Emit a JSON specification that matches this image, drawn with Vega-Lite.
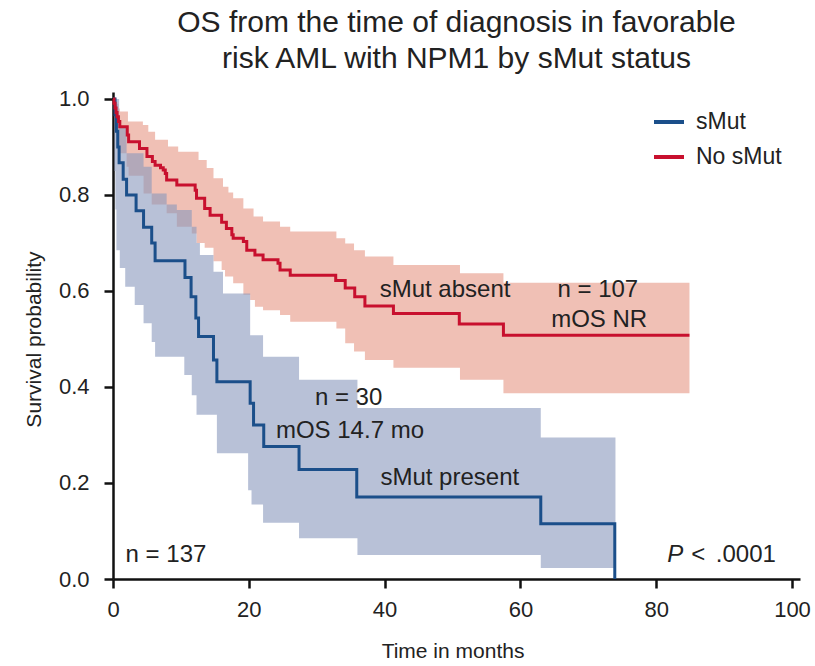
{
  "$schema": "https://vega.github.io/schema/vega-lite/v6.json",
  "autosize": {"type": "none"},
  "padding": {"left": 113, "top": 92, "right": 15, "bottom": 87},
  "width": 687,
  "height": 487,
  "background": "white",
  "title": {
    "text": ["OS from the time of diagnosis in favorable", "risk AML with NPM1 by sMut status"],
    "font": "Liberation Sans",
    "fontSize": 30,
    "fontWeight": "normal",
    "color": "#222222",
    "lineHeight": 36,
    "offset": 14,
    "anchor": "middle"
  },
  "config": {
    "view": {"stroke": null},
    "axis": {
      "domainColor": "#111111",
      "domainWidth": 2.5,
      "tickColor": "#111111",
      "tickWidth": 2.5,
      "tickSize": 9,
      "grid": false,
      "labelFlush": false,
      "labelFont": "Liberation Sans",
      "labelFontSize": 22,
      "labelColor": "#222222",
      "titleFont": "Liberation Sans",
      "titleFontSize": 21,
      "titleFontWeight": "normal",
      "titleColor": "#222222"
    },
    "legend": {
      "labelFont": "Liberation Sans",
      "labelFontSize": 23,
      "labelColor": "#222222"
    }
  },
  "datasets": {
    "curves": [
      {"g": "sMut", "t": 0, "s": 1.0},
      {"g": "sMut", "t": 0.3, "s": 0.967},
      {"g": "sMut", "t": 0.5, "s": 0.933},
      {"g": "sMut", "t": 0.7, "s": 0.9},
      {"g": "sMut", "t": 0.9, "s": 0.867},
      {"g": "sMut", "t": 1.5, "s": 0.833},
      {"g": "sMut", "t": 2.0, "s": 0.8},
      {"g": "sMut", "t": 3.4, "s": 0.767},
      {"g": "sMut", "t": 4.5, "s": 0.733},
      {"g": "sMut", "t": 5.7, "s": 0.7},
      {"g": "sMut", "t": 6.2, "s": 0.663},
      {"g": "sMut", "t": 10.6, "s": 0.628},
      {"g": "sMut", "t": 11.5, "s": 0.588},
      {"g": "sMut", "t": 12.2, "s": 0.544},
      {"g": "sMut", "t": 12.6, "s": 0.505},
      {"g": "sMut", "t": 14.8, "s": 0.456},
      {"g": "sMut", "t": 15.3, "s": 0.411},
      {"g": "sMut", "t": 20.2, "s": 0.366},
      {"g": "sMut", "t": 20.7, "s": 0.321},
      {"g": "sMut", "t": 22.2, "s": 0.276},
      {"g": "sMut", "t": 27.4, "s": 0.228},
      {"g": "sMut", "t": 35.9, "s": 0.171},
      {"g": "sMut", "t": 63.0, "s": 0.115},
      {"g": "sMut", "t": 73.9, "s": 0.0},
      {"g": "No sMut", "t": 0, "s": 1.0},
      {"g": "No sMut", "t": 0.15, "s": 0.991},
      {"g": "No sMut", "t": 0.3, "s": 0.981},
      {"g": "No sMut", "t": 0.45, "s": 0.972},
      {"g": "No sMut", "t": 0.6, "s": 0.963},
      {"g": "No sMut", "t": 0.8, "s": 0.953},
      {"g": "No sMut", "t": 1.0, "s": 0.942},
      {"g": "No sMut", "t": 2.1, "s": 0.925},
      {"g": "No sMut", "t": 2.3, "s": 0.911},
      {"g": "No sMut", "t": 3.9, "s": 0.897},
      {"g": "No sMut", "t": 5.0, "s": 0.88},
      {"g": "No sMut", "t": 5.8, "s": 0.87},
      {"g": "No sMut", "t": 6.2, "s": 0.862},
      {"g": "No sMut", "t": 7.0, "s": 0.857},
      {"g": "No sMut", "t": 7.4, "s": 0.852},
      {"g": "No sMut", "t": 7.7, "s": 0.845},
      {"g": "No sMut", "t": 7.9, "s": 0.831},
      {"g": "No sMut", "t": 9.4, "s": 0.821},
      {"g": "No sMut", "t": 12.1, "s": 0.81},
      {"g": "No sMut", "t": 12.3, "s": 0.793},
      {"g": "No sMut", "t": 13.5, "s": 0.772},
      {"g": "No sMut", "t": 14.3, "s": 0.758},
      {"g": "No sMut", "t": 16.0, "s": 0.743},
      {"g": "No sMut", "t": 16.7, "s": 0.73},
      {"g": "No sMut", "t": 17.5, "s": 0.717},
      {"g": "No sMut", "t": 17.7, "s": 0.71},
      {"g": "No sMut", "t": 19.2, "s": 0.703},
      {"g": "No sMut", "t": 19.7, "s": 0.685},
      {"g": "No sMut", "t": 20.9, "s": 0.675},
      {"g": "No sMut", "t": 22.1, "s": 0.665},
      {"g": "No sMut", "t": 24.3, "s": 0.658},
      {"g": "No sMut", "t": 24.6, "s": 0.644},
      {"g": "No sMut", "t": 26.1, "s": 0.633},
      {"g": "No sMut", "t": 32.8, "s": 0.622},
      {"g": "No sMut", "t": 34.2, "s": 0.606},
      {"g": "No sMut", "t": 35.6, "s": 0.588},
      {"g": "No sMut", "t": 37.1, "s": 0.569},
      {"g": "No sMut", "t": 41.3, "s": 0.553},
      {"g": "No sMut", "t": 51.0, "s": 0.531},
      {"g": "No sMut", "t": 57.5, "s": 0.508},
      {"g": "No sMut", "t": 84.9, "s": 0.508}
    ],
    "blueBand": [
      {"t": 0, "lo": 1.0, "hi": 1.0},
      {"t": 0.2, "lo": 0.85, "hi": 1.0},
      {"t": 0.35, "lo": 0.77, "hi": 1.0},
      {"t": 0.5, "lo": 0.685, "hi": 1.0},
      {"t": 0.9, "lo": 0.685, "hi": 0.94},
      {"t": 1.0, "lo": 0.648, "hi": 0.94},
      {"t": 1.8, "lo": 0.609, "hi": 0.94},
      {"t": 2.0, "lo": 0.609, "hi": 0.887},
      {"t": 3.2, "lo": 0.571, "hi": 0.887},
      {"t": 4.5, "lo": 0.533, "hi": 0.859},
      {"t": 5.7, "lo": 0.494, "hi": 0.803},
      {"t": 6.2, "lo": 0.463, "hi": 0.803},
      {"t": 7.9, "lo": 0.463, "hi": 0.78},
      {"t": 9.4, "lo": 0.463, "hi": 0.769},
      {"t": 10.5, "lo": 0.425, "hi": 0.769},
      {"t": 11.6, "lo": 0.383, "hi": 0.734},
      {"t": 12.3, "lo": 0.342, "hi": 0.7},
      {"t": 12.8, "lo": 0.342, "hi": 0.675},
      {"t": 14.8, "lo": 0.342, "hi": 0.64},
      {"t": 15.3, "lo": 0.262, "hi": 0.64},
      {"t": 16.2, "lo": 0.262, "hi": 0.595},
      {"t": 19.9, "lo": 0.185, "hi": 0.595},
      {"t": 20.2, "lo": 0.185, "hi": 0.508},
      {"t": 20.4, "lo": 0.155, "hi": 0.508},
      {"t": 22.1, "lo": 0.117, "hi": 0.463},
      {"t": 27.4, "lo": 0.085, "hi": 0.415},
      {"t": 36.0, "lo": 0.05, "hi": 0.356},
      {"t": 63.0, "lo": 0.023, "hi": 0.295},
      {"t": 74.0, "lo": 0.023, "hi": 0.295}
    ],
    "redBand": [
      {"t": 0, "lo": 1.0, "hi": 1.0},
      {"t": 0.3, "lo": 0.95, "hi": 1.0},
      {"t": 0.5, "lo": 0.95, "hi": 0.99},
      {"t": 0.6, "lo": 0.9, "hi": 0.99},
      {"t": 0.8, "lo": 0.887, "hi": 0.98},
      {"t": 1.0, "lo": 0.887, "hi": 0.974},
      {"t": 2.0, "lo": 0.859, "hi": 0.974},
      {"t": 2.2, "lo": 0.859, "hi": 0.953},
      {"t": 2.3, "lo": 0.84, "hi": 0.953},
      {"t": 4.4, "lo": 0.84, "hi": 0.946},
      {"t": 4.5, "lo": 0.803, "hi": 0.946},
      {"t": 5.2, "lo": 0.803, "hi": 0.932},
      {"t": 5.7, "lo": 0.78, "hi": 0.932},
      {"t": 6.2, "lo": 0.78, "hi": 0.915},
      {"t": 7.9, "lo": 0.762, "hi": 0.915},
      {"t": 8.1, "lo": 0.762, "hi": 0.901},
      {"t": 9.4, "lo": 0.734, "hi": 0.901},
      {"t": 9.6, "lo": 0.734, "hi": 0.89},
      {"t": 11.6, "lo": 0.72, "hi": 0.89},
      {"t": 12.3, "lo": 0.7, "hi": 0.89},
      {"t": 12.6, "lo": 0.7, "hi": 0.873},
      {"t": 13.5, "lo": 0.69, "hi": 0.873},
      {"t": 13.8, "lo": 0.69, "hi": 0.856},
      {"t": 14.8, "lo": 0.662, "hi": 0.835},
      {"t": 16.0, "lo": 0.644, "hi": 0.835},
      {"t": 16.2, "lo": 0.644, "hi": 0.817},
      {"t": 16.5, "lo": 0.63, "hi": 0.817},
      {"t": 17.0, "lo": 0.63, "hi": 0.805},
      {"t": 17.7, "lo": 0.616, "hi": 0.793},
      {"t": 19.2, "lo": 0.592, "hi": 0.772},
      {"t": 20.2, "lo": 0.581, "hi": 0.772},
      {"t": 20.7, "lo": 0.581, "hi": 0.755},
      {"t": 20.9, "lo": 0.567, "hi": 0.755},
      {"t": 22.1, "lo": 0.56, "hi": 0.745},
      {"t": 24.6, "lo": 0.55, "hi": 0.734},
      {"t": 26.1, "lo": 0.536, "hi": 0.724},
      {"t": 32.9, "lo": 0.522, "hi": 0.71},
      {"t": 34.2, "lo": 0.491, "hi": 0.699},
      {"t": 35.5, "lo": 0.474, "hi": 0.685},
      {"t": 37.1, "lo": 0.456, "hi": 0.672},
      {"t": 41.3, "lo": 0.44, "hi": 0.654},
      {"t": 51.1, "lo": 0.415, "hi": 0.637},
      {"t": 57.5, "lo": 0.387, "hi": 0.617},
      {"t": 84.9, "lo": 0.387, "hi": 0.617}
    ],
    "notes": [
      {"x": 48.9, "y": 0.602, "label": "sMut absent"},
      {"x": 71.4, "y": 0.602, "label": "n = 107"},
      {"x": 71.6, "y": 0.54, "label": "mOS NR"},
      {"x": 34.7, "y": 0.377, "label": "n = 30"},
      {"x": 34.9, "y": 0.308, "label": "mOS 14.7 mo"},
      {"x": 49.6, "y": 0.211, "label": "sMut present"},
      {"x": 7.8, "y": 0.05, "label": "n = 137"},
      {"x": 86.2, "y": 0.05, "label": "<"},
      {"x": 93.2, "y": 0.05, "label": ".0001"}
    ],
    "pnote": [
      {"x": 82.8, "y": 0.05, "label": "P"}
    ]
  },
  "layer": [
    {
      "data": {"name": "redBand"},
      "mark": {"type": "area", "interpolate": "step-after", "color": "#f0c0b5", "opacity": 1},
      "encoding": {
        "x": {"field": "t", "type": "quantitative", "scale": {"domain": [0, 101.178], "nice": false},
              "axis": {"values": [0, 20, 40, 60, 80, 100], "title": "Time in months", "titleX": 339.5, "labelPadding": 11, "titlePadding": 20}},
        "y": {"field": "lo", "type": "quantitative", "scale": {"domain": [0, 1.01458], "nice": false},
              "axis": {"values": [0, 0.2, 0.4, 0.6, 0.8, 1.0], "format": ".1f", "title": "Survival probability", "titleY": 247, "labelPadding": 15, "titlePadding": 14}},
        "y2": {"field": "hi"}
      }
    },
    {
      "data": {"name": "blueBand"},
      "mark": {"type": "area", "interpolate": "step-after", "color": "#8898bc", "opacity": 0.6},
      "encoding": {
        "x": {"field": "t", "type": "quantitative"},
        "y": {"field": "lo", "type": "quantitative"},
        "y2": {"field": "hi"}
      }
    },
    {
      "data": {"name": "curves"},
      "mark": {"type": "line", "interpolate": "step-after", "strokeWidth": 3},
      "encoding": {
        "x": {"field": "t", "type": "quantitative"},
        "y": {"field": "s", "type": "quantitative"},
        "color": {
          "field": "g", "type": "nominal",
          "scale": {"domain": ["sMut", "No sMut"], "range": ["#1b4f8a", "#c8102e"]},
          "legend": {"title": null, "orient": "none", "legendX": 539, "legendY": 13, "symbolType": "stroke", "symbolSize": 900, "symbolStrokeWidth": 4, "labelOffset": 10, "rowPadding": 6}
        }
      }
    },
    {
      "data": {"name": "notes"},
      "mark": {"type": "text", "font": "Liberation Sans", "fontSize": 24, "color": "#222222", "align": "center", "baseline": "middle"},
      "encoding": {
        "x": {"field": "x", "type": "quantitative"},
        "y": {"field": "y", "type": "quantitative"},
        "text": {"field": "label"}
      }
    },
    {
      "data": {"name": "pnote"},
      "mark": {"type": "text", "font": "Liberation Sans", "fontSize": 24, "fontStyle": "italic", "color": "#222222", "align": "center", "baseline": "middle"},
      "encoding": {
        "x": {"field": "x", "type": "quantitative"},
        "y": {"field": "y", "type": "quantitative"},
        "text": {"field": "label"}
      }
    }
  ]
}
